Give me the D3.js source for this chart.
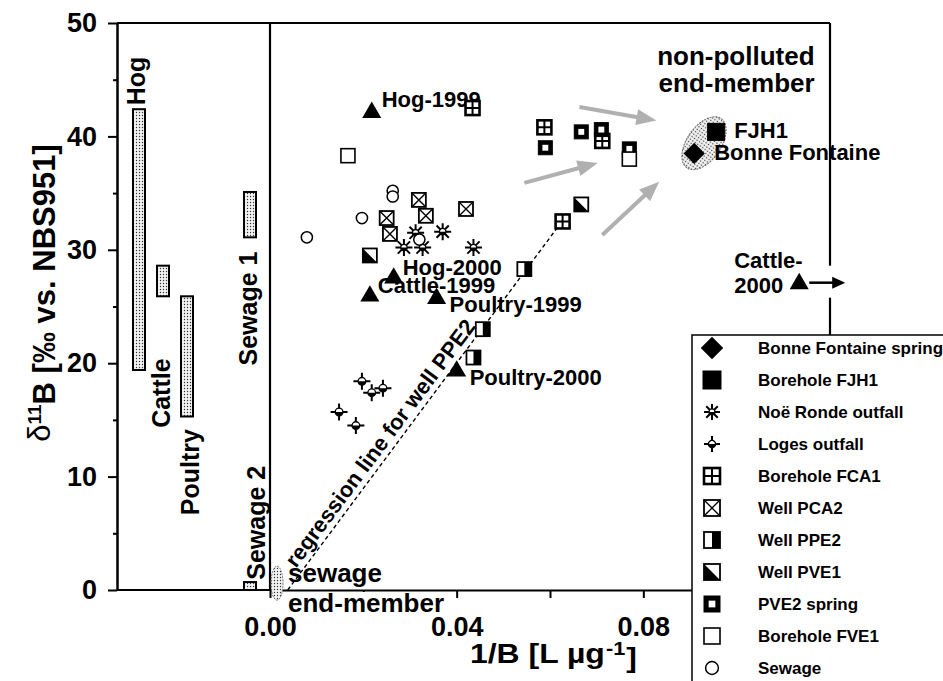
<!DOCTYPE html>
<html><head><meta charset="utf-8">
<script src="https://cdn.jsdelivr.net/npm/d3@7"></script>
<style>
body{margin:0;background:#fff}
text{font-family:"Liberation Sans",Arial,Helvetica,sans-serif;font-weight:bold;fill:#000}
</style></head>
<body><svg id="c" width="943" height="681"></svg>
<script>
// ---------------- DATA ----------------
const yTickValues = [0, 10, 20, 30, 40, 50];
const yMinorTicks = [5, 15, 25, 35, 45];
const xTickValues = [0, 0.02, 0.04, 0.06, 0.08, 0.10];
const xTickLabels = [0, 0.04, 0.08];

// source ranges (left panel)
const sourceNames = ["Hog", "Cattle", "Poultry", "Sewage 1", "Sewage 2"];
const sourceLow  = [19.4, 25.9, 15.3, 31.1, 0.0];
const sourceHigh = [42.4, 28.6, 25.9, 35.1, 0.7];

// samples [1/B, d11B]
const bonneFontaine = [[0.0909, 38.5]];
const fjh1 = [[0.0956, 40.4]];
const noeRonde = [[0.0312, 31.5], [0.0370, 31.6], [0.0287, 30.2], [0.0327, 30.2], [0.0436, 30.2]];
const loges = [[0.0197, 18.4], [0.0218, 17.4], [0.0242, 17.8], [0.0148, 15.7], [0.0184, 14.5]];
const fca1 = [[0.0434, 42.5], [0.0588, 40.8], [0.0712, 39.6], [0.0627, 32.5]];
const pca2 = [[0.0319, 34.4], [0.0250, 32.8], [0.0334, 33.0], [0.0257, 31.4], [0.0420, 33.6]];
const ppe2 = [[0.0545, 28.3], [0.0456, 23.0], [0.0436, 20.5]];
const pve1 = [[0.0214, 29.5], [0.0667, 34.0]];
const pve2 = [[0.0590, 39.0], [0.0667, 40.4], [0.0710, 40.6], [0.0770, 38.9]];
const fve1 = [[0.0167, 38.3], [0.0770, 38.0]];
const sewage = [[0.0263, 35.2], [0.0263, 34.7], [0.0197, 32.8], [0.0079, 31.1], [0.0320, 30.9]];

// manure samples (triangles)
const manureNames = ["Hog-1999", "Hog-2000", "Cattle-1999", "Poultry-1999", "Poultry-2000", "Cattle-2000"];
const manureX = [0.0218, 0.0265, 0.0214, 0.0357, 0.0400, 0.1134];
const manureY = [42.2, 27.6, 26.0, 25.8, 19.4, 27.1];

// regression line for well PPE2
const regSlope = 553, regIntercept = -2.1, regXRange = [0.0038, 0.0620];

// end-member ellipses (centre in data units)
const sewageEM = [0.0015, 0.6];
const nonPollutedEM = [0.0930, 39.4];

// grey arrows toward non-polluted end member [x1,y1,x2,y2]
const greyArrows = [
  [0.0663, 42.6, 0.0828, 41.4],
  [0.0545, 35.9, 0.0702, 37.65],
  [0.0712, 31.3, 0.0834, 36.0]
];

const legendNames = ["Bonne Fontaine spring", "Borehole FJH1", "Noë Ronde outfall", "Loges outfall",
  "Borehole FCA1", "Well PCA2", "Well PPE2", "Well PVE1", "PVE2 spring", "Borehole FVE1", "Sewage"];
const legendTypes = ["diamond", "sqFill", "noe", "loges", "fca1", "pca2", "ppe2", "pve1", "pve2", "fve1", "circle"];
const seriesData = [bonneFontaine, fjh1, noeRonde, loges, fca1, pca2, ppe2, pve1, pve2, fve1, sewage];

// ---------------- LAYOUT ----------------
const svg = d3.select("#c");
const x = d3.scaleLinear().domain([0, 0.12]).range([270, 830]);
const y = d3.scaleLinear().domain([0, 50]).range([590, 23]);
const panelLeft = 117;
const legendTop = 335, legendLeft = 692;
const srcCol = d3.scaleOrdinal(["Hog", "Cattle", "Poultry", "Sewage 1", "Sewage 2"], [139, 163, 187, 250, 250]);

const defs = svg.append("defs");
const pat = defs.append("pattern").attr("id", "dots").attr("width", 3).attr("height", 3)
  .attr("patternUnits", "userSpaceOnUse");
pat.append("rect").attr("width", 3).attr("height", 3).attr("fill", "#f2f2f2");
pat.append("circle").attr("cx", 1.5).attr("cy", 1.5).attr("r", 0.7).attr("fill", "#333");

// ---------------- AXES / FRAME ----------------
svg.append("g").attr("transform", `translate(${panelLeft},0)`)
  .call(d3.axisLeft(y).tickValues(yTickValues).tickSize(9).tickSizeOuter(0).tickPadding(11));
svg.append("g").attr("transform", `translate(${panelLeft},0)`)
  .call(d3.axisLeft(y).tickValues(yMinorTicks).tickSize(4).tickSizeOuter(0).tickFormat(""));
svg.append("g").attr("transform", `translate(0,${y(0)})`)
  .call(d3.axisBottom(x).tickValues(xTickValues).tickSize(8).tickSizeOuter(0).tickPadding(19)
    .tickFormat(d => xTickLabels.some(v => Math.abs(v - d) < 1e-9) ? d3.format(".2f")(d) : ""));
svg.selectAll(".domain, .tick line").attr("stroke", "#000").attr("stroke-width", 2);
svg.selectAll(".tick text").style("font-size", "27px").attr("fill", "#000");

// frame lines
const frame = (x1, y1, x2, y2) => svg.append("line").attr("x1", x1).attr("y1", y1).attr("x2", x2).attr("y2", y2)
  .attr("stroke", "#000").attr("stroke-width", 2.2);
frame(panelLeft, y(0), x(0), y(0));
frame(panelLeft, y(50), x(0.12), y(50));
frame(x(0), y(50), x(0), y(0));
frame(x(0.12), y(50), x(0.12), legendTop);

// axis titles
const yt = svg.append("text").attr("transform", `translate(50,293) rotate(-90)`).attr("text-anchor", "middle")
  .style("font-size", "31px");
yt.append("tspan").text("δ").style("font-weight", "normal");
yt.append("tspan").text("11").attr("dy", "-0.45em").style("font-size", "19px");
yt.append("tspan").text("B [‰ vs. NBS951]").attr("dy", "0.45em");

const xt = svg.append("text").attr("transform", "translate(470,663) scale(1.14,1)").style("font-size", "28px");
xt.append("tspan").text("1/B [L µg");
xt.append("tspan").text("-1").attr("dy", "-0.4em").attr("dx", 1).style("font-size", "19px");
xt.append("tspan").text("]").attr("dy", "0.4em").attr("dx", 1);

// ---------------- LEFT PANEL: source ranges ----------------
const gs = svg.append("g");
sourceNames.forEach((n, i) => {
  gs.append("rect").attr("x", srcCol(n) - 6).attr("width", 12)
    .attr("y", y(sourceHigh[i])).attr("height", y(sourceLow[i]) - y(sourceHigh[i]))
    .attr("fill", "url(#dots)").attr("stroke", "#000").attr("stroke-width", 2);
});
// rotated labels: [name, centre x, y start value]
const srcLabelPos = [
  ["Hog", 136, 42.75],
  ["Cattle", 161, 14.3],
  ["Poultry", 190, 6.6],
  ["Sewage 1", 248, 19.8],
  ["Sewage 2", 256, 0.9]
];
srcLabelPos.forEach(([t, cx, yv]) => {
  gs.append("text").attr("transform", `translate(${cx},${y(yv)}) rotate(-90)`)
    .attr("dy", "0.36em").attr("text-anchor", "start").style("font-size", "25px").text(t);
});

// ---------------- ANNOTATIONS ----------------
// regression line
const rx1 = regXRange[0], rx2 = regXRange[1];
const p1 = [x(rx1), y(regSlope * rx1 + regIntercept)], p2 = [x(rx2), y(regSlope * rx2 + regIntercept)];
svg.append("line").attr("x1", p1[0]).attr("y1", p1[1]).attr("x2", p2[0]).attr("y2", p2[1])
  .attr("stroke", "#000").attr("stroke-width", 1.4).attr("stroke-dasharray", "4,3");
const ang = Math.atan2(p2[1] - p1[1], p2[0] - p1[0]);
const ux = Math.cos(ang), uy = Math.sin(ang);
const tx = p1[0] + ux * 22 + uy * 6, ty = p1[1] + uy * 22 - ux * 6;
svg.append("text").attr("transform", `translate(${tx},${ty}) rotate(${ang * 180 / Math.PI})`)
  .style("font-size", "22px").text("regression line for well PPE2");

// end-member ellipses
svg.append("ellipse").attr("cx", x(sewageEM[0])).attr("cy", y(sewageEM[1])).attr("rx", 6).attr("ry", 17)
  .attr("fill", "url(#dots)").attr("stroke", "#777").attr("stroke-width", 1).attr("stroke-dasharray", "2,1");
svg.append("ellipse").attr("transform", `translate(${x(nonPollutedEM[0])},${y(nonPollutedEM[1])}) rotate(-55)`)
  .attr("rx", 30).attr("ry", 17)
  .attr("fill", "url(#dots)").attr("stroke", "#666").attr("stroke-width", 1).attr("stroke-dasharray", "2,1");

function arrow(g, x1, y1, x2, y2, color, w, hl, hw) {
  const dx = x2 - x1, dy = y2 - y1, L = Math.hypot(dx, dy), ax = dx / L, ay = dy / L;
  const bx = x2 - ax * hl, by = y2 - ay * hl;
  g.append("line").attr("x1", x1).attr("y1", y1).attr("x2", bx + ax).attr("y2", by + ay)
    .attr("stroke", color).attr("stroke-width", w);
  g.append("path").attr("d", `M${x2},${y2}L${bx - ay * hw},${by + ax * hw}L${bx + ay * hw},${by - ax * hw}Z`)
    .attr("fill", color);
}
const ga = svg.append("g");
greyArrows.forEach(a => arrow(ga, x(a[0]), y(a[1]), x(a[2]), y(a[3]), "#b0b0b0", 4, 20, 8));

// end-member texts
svg.append("rect").attr("x", 287).attr("y", 592).attr("width", 162).attr("height", 24).attr("fill", "#fff");
svg.append("text").attr("x", 288).attr("y", 582).style("font-size", "26px").text("sewage");
svg.append("text").attr("x", 288).attr("y", 612).style("font-size", "26px").text("end-member");
svg.append("text").attr("x", x(0.1167)).attr("y", 65).attr("text-anchor", "end").style("font-size", "26px").text("non-polluted");
svg.append("text").attr("x", x(0.1167)).attr("y", 92).attr("text-anchor", "end").style("font-size", "26px").text("end-member");

// ---------------- MARKERS ----------------
function marker(g, type, s) {
  const h = s / 2;
  const sq = (fill, sw) => g.append("rect").attr("x", -h).attr("y", -h).attr("width", s).attr("height", s)
    .attr("fill", fill).attr("stroke", "#000").attr("stroke-width", sw);
  switch (type) {
    case "diamond": {
      const d = h * 1.25;
      g.append("path").attr("d", `M0,${-d}L${d},0L0,${d}L${-d},0Z`).attr("fill", "#000"); break;
    }
    case "sqFill": sq("#000", 1); break;
    case "fve1": sq("#fff", 1.6); break;
    case "pve2": sq("#000", 1); g.append("rect").attr("x", -h * 0.42).attr("y", -h * 0.42)
      .attr("width", h * 0.84).attr("height", h * 0.84).attr("fill", "#fff"); break;
    case "fca1": sq("#fff", 2.6);
      g.append("path").attr("d", `M0,${-h}V${h}M${-h},0H${h}`).attr("stroke", "#000").attr("stroke-width", 2); break;
    case "pca2": sq("#fff", 1.8);
      g.append("path").attr("d", `M${-h},${-h}L${h},${h}M${h},${-h}L${-h},${h}`).attr("stroke", "#000").attr("stroke-width", 1.4); break;
    case "ppe2": sq("#fff", 1.8);
      g.append("rect").attr("x", 0).attr("y", -h).attr("width", h).attr("height", s).attr("fill", "#000"); break;
    case "pve1": sq("#fff", 1.8);
      g.append("path").attr("d", `M${-h},${-h}L${-h},${h}L${h},${h}Z`).attr("fill", "#000"); break;
    case "circle": g.append("circle").attr("r", h * 0.8).attr("fill", "#fff").attr("stroke", "#000").attr("stroke-width", 1.5); break;
    case "noe": {
      const r = h;
      g.append("path").attr("d", `M${-r},0H${r}M0,${-r}V${r}M${-r * .72},${-r * .72}L${r * .72},${r * .72}M${r * .72},${-r * .72}L${-r * .72},${r * .72}`)
        .attr("stroke", "#000").attr("stroke-width", 2);
      g.append("circle").attr("r", r * 0.38).attr("fill", "#fff").attr("stroke", "#000").attr("stroke-width", 1.3);
      g.append("path").attr("d", `M${-r * .38},0A${r * .38},${r * .38} 0 0 0 ${r * .38},0Z`).attr("fill", "#000");
      break;
    }
    case "loges": {
      const r = h;
      g.append("path").attr("d", `M${-r},0H${r}M0,${-r}V${r}`).attr("stroke", "#000").attr("stroke-width", 2);
      g.append("circle").attr("r", r * 0.45).attr("fill", "#fff").attr("stroke", "#000").attr("stroke-width", 1.3);
      g.append("path").attr("d", `M${-r * .45},0A${r * .45},${r * .45} 0 0 0 ${r * .45},0Z`).attr("fill", "#000");
      break;
    }
    case "tri":
      g.append("path").attr("d", `M0,${-s * 0.58}L${s * 0.56},${s * 0.38}L${-s * 0.56},${s * 0.38}Z`).attr("fill", "#000"); break;
  }
}

// point labels (drawn under markers)
const manureLabelOff = {
  "Hog-1999": [[10, -4]], "Hog-2000": [[9, -2]], "Cattle-1999": [[8, -2]],
  "Poultry-1999": [[13, 15]], "Poultry-2000": [[13, 15]], "Cattle-2000": [[-65, -15], [-65, 10]]
};
const gl = svg.append("g");
manureNames.forEach((n, i) => {
  const px = x(manureX[i]), py = y(manureY[i]);
  const parts = n === "Cattle-2000" ? ["Cattle-", "2000"] : [n];
  parts.forEach((t, j) => {
    const o = manureLabelOff[n][j];
    gl.append("text").attr("x", px + o[0]).attr("y", py + o[1]).style("font-size", "22px").text(t);
  });
});
gl.append("text").attr("x", x(fjh1[0][0]) + 18).attr("y", y(fjh1[0][1]) + 6).style("font-size", "22px").text("FJH1");
gl.append("text").attr("x", x(bonneFontaine[0][0]) + 20).attr("y", y(bonneFontaine[0][1]) + 7).style("font-size", "22px").text("Bonne Fontaine");

// Cattle-2000 arrow (crosses the frame)
const c2x = x(manureX[5]), c2y = y(manureY[5]);
svg.append("rect").attr("x", x(0.12) - 4).attr("y", c2y - 17).attr("width", 8).attr("height", 32).attr("fill", "#fff");
arrow(svg, c2x + 10, c2y, c2x + 46, c2y, "#000", 2.5, 13, 6);

// markers
const gm = svg.append("g");
seriesData.forEach((arr, k) => {
  const t = legendTypes[k];
  const s = t === "sqFill" || t === "diamond" || t === "noe" || t === "loges" ? 17 : 14;
  arr.forEach(d => marker(gm.append("g").attr("transform", `translate(${x(d[0])},${y(d[1])})`), t, s));
});
manureX.forEach((mx, i) => marker(gm.append("g").attr("transform", `translate(${x(mx)},${y(manureY[i])})`), "tri", 17));

// ---------------- LEGEND ----------------
const lg = svg.append("g");
lg.append("rect").attr("x", legendLeft).attr("y", legendTop).attr("width", 400).attr("height", 400)
  .attr("fill", "#fff").attr("stroke", "#000").attr("stroke-width", 1.5);
legendNames.forEach((n, i) => {
  const cy = 348 + i * 32;
  const t = legendTypes[i];
  marker(lg.append("g").attr("transform", `translate(712,${cy})`), t, t === "sqFill" || t === "diamond" ? 18 : 16);
  lg.append("text").attr("x", 758).attr("y", cy + 6).style("font-size", "17px").text(n);
});
</script></body></html>
